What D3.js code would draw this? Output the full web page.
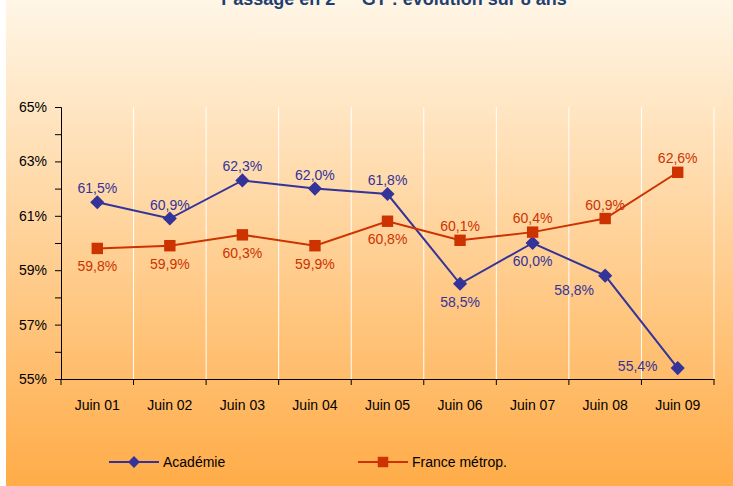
<!DOCTYPE html>
<html>
<head>
<meta charset="utf-8">
<script src="https://cdn.jsdelivr.net/npm/d3@7"></script>
<style>
  body { margin: 0; background: #fff; }
  svg { display: block; font-family: "Liberation Sans", Arial, sans-serif; }
</style>
</head>
<body>
<div id="chart"></div>
<script>
// chart values
const years = ["Juin 01", "Juin 02", "Juin 03", "Juin 04", "Juin 05", "Juin 06", "Juin 07", "Juin 08", "Juin 09"];
const academie = [61.5, 60.9, 62.3, 62.0, 61.8, 58.5, 60.0, 58.8, 55.4];
const france = [59.8, 59.9, 60.3, 59.9, 60.8, 60.1, 60.4, 60.9, 62.6];
const yTicks = [55, 57, 59, 61, 63, 65];
// where each value label sits relative to its point
const academieLabelSide = ["above", "above", "above", "above", "above", "below", "below", "belowleft", "left"];
const franceLabelSide = ["below", "below", "below", "below", "below", "above", "above", "above", "above"];

const width = 733;
const height = 486;
const margin = { top: 107, right: 19, bottom: 107, left: 61 };
const fontSize = 14;

const blue = "#333399";
const red = "#CC3300";

// label offsets from the point, per side
const labelOffset = {
    above: [0, -9],
    below: [0, 23],
    belowleft: [-31, 19],
    left: [-40, 3]
};

const svg = d3.select("#chart").append("svg")
    .attr("width", width)
    .attr("height", height);

const grad = svg.append("defs").append("linearGradient")
    .attr("id", "bg")
    .attr("x1", 0).attr("y1", 0)
    .attr("x2", 0).attr("y2", 1);
grad.append("stop").attr("offset", "0%").attr("stop-color", "#FFF6E6");
grad.append("stop").attr("offset", "100%").attr("stop-color", "#FFAC48");

svg.append("rect")
    .attr("x", 6).attr("y", 0)
    .attr("width", width - 6).attr("height", height)
    .attr("fill", "url(#bg)");

// title, its top part is cut off in the original
const title = svg.append("text")
    .attr("x", 394)
    .attr("y", 5)
    .attr("text-anchor", "middle")
    .attr("font-size", 18)
    .attr("font-weight", "bold")
    .attr("fill", "#1F3F73");
title.append("tspan").text("Passage en 2");
title.append("tspan").attr("dy", -8).attr("font-size", 12).text("nde");
title.append("tspan").attr("dy", 8).text(" GT : évolution sur 8 ans");

const x = d3.scaleBand()
    .domain(years)
    .range([margin.left, width - margin.right])
    .padding(0);

const y = d3.scaleLinear()
    .domain([55, 65])
    .range([height - margin.bottom, margin.top]);

const cx = d => x(d) + x.bandwidth() / 2;

// white vertical gridlines at category boundaries
const boundaries = years.map(d => x(d) + x.bandwidth());
svg.append("g")
    .selectAll("line")
    .data(boundaries)
    .join("line")
    .attr("x1", d => d).attr("x2", d => d)
    .attr("y1", margin.top).attr("y2", height - margin.bottom)
    .attr("stroke", "#fff")
    .attr("stroke-width", 1);

// y axis
const yAxis = svg.append("g")
    .attr("transform", `translate(${margin.left},0)`)
    .call(d3.axisLeft(y)
        .tickValues(d3.range(55, 66, 1))
        .tickSize(6)
        .tickFormat(d => yTicks.includes(d) ? d + "%" : ""));
yAxis.select(".domain").attr("stroke", "#000");
yAxis.selectAll(".tick line").attr("stroke", "#000");
yAxis.selectAll(".tick text")
    .attr("font-size", fontSize)
    .attr("font-family", null)
    .attr("fill", "#000")
    .attr("x", -14);

// x axis
const xAxis = svg.append("g")
    .attr("transform", `translate(0,${height - margin.bottom})`)
    .call(d3.axisBottom(x).tickSize(0).tickSizeOuter(0));
xAxis.select(".domain").attr("stroke", "#000");
xAxis.selectAll(".tick text")
    .attr("font-size", fontSize)
    .attr("font-family", null)
    .attr("fill", "#000")
    .attr("dy", 0)
    .attr("y", 31);
xAxis.append("g")
    .selectAll("line")
    .data([margin.left].concat(boundaries))
    .join("line")
    .attr("x1", d => d).attr("x2", d => d)
    .attr("y1", 0).attr("y2", 6)
    .attr("stroke", "#000");

const line = d3.line()
    .x((d, i) => cx(years[i]))
    .y(d => y(d));

function drawSeries(values, color, size, rotate, sides) {
    const g = svg.append("g");
    g.append("path")
        .datum(values)
        .attr("d", line)
        .attr("fill", "none")
        .attr("stroke", color)
        .attr("stroke-width", 2);
    g.selectAll("path.mark")
        .data(values)
        .join("path")
        .attr("class", "mark")
        .attr("d", d3.symbol().type(d3.symbolSquare).size(size))
        .attr("transform", (d, i) => `translate(${cx(years[i])},${y(d)})` + (rotate ? " rotate(45)" : ""))
        .attr("fill", color);
    g.selectAll("text")
        .data(values)
        .join("text")
        .attr("x", (d, i) => cx(years[i]) + labelOffset[sides[i]][0])
        .attr("y", (d, i) => y(d) + labelOffset[sides[i]][1])
        .attr("text-anchor", "middle")
        .attr("font-size", fontSize)
        .attr("fill", color)
        .text(d => d.toFixed(1).replace(".", ",") + "%");
}

drawSeries(academie, blue, 100, true, academieLabelSide);
drawSeries(france, red, 130, false, franceLabelSide);

// legend
const legend = [
    { name: "Académie", color: blue, x: 109, rotate: true, size: 70 },
    { name: "France métrop.", color: red, x: 358, rotate: false, size: 110 }
];
const lg = svg.append("g").selectAll("g")
    .data(legend)
    .join("g")
    .attr("transform", d => `translate(${d.x},462)`);
lg.append("line")
    .attr("x1", 0).attr("x2", 50)
    .attr("stroke", d => d.color)
    .attr("stroke-width", 2);
lg.append("path")
    .attr("d", d => d3.symbol().type(d3.symbolSquare).size(d.size)())
    .attr("transform", d => `translate(25,0)` + (d.rotate ? " rotate(45)" : ""))
    .attr("fill", d => d.color);
lg.append("text")
    .attr("x", 54)
    .attr("y", 5)
    .attr("font-size", fontSize)
    .attr("fill", "#000")
    .text(d => d.name);
</script>
</body>
</html>
